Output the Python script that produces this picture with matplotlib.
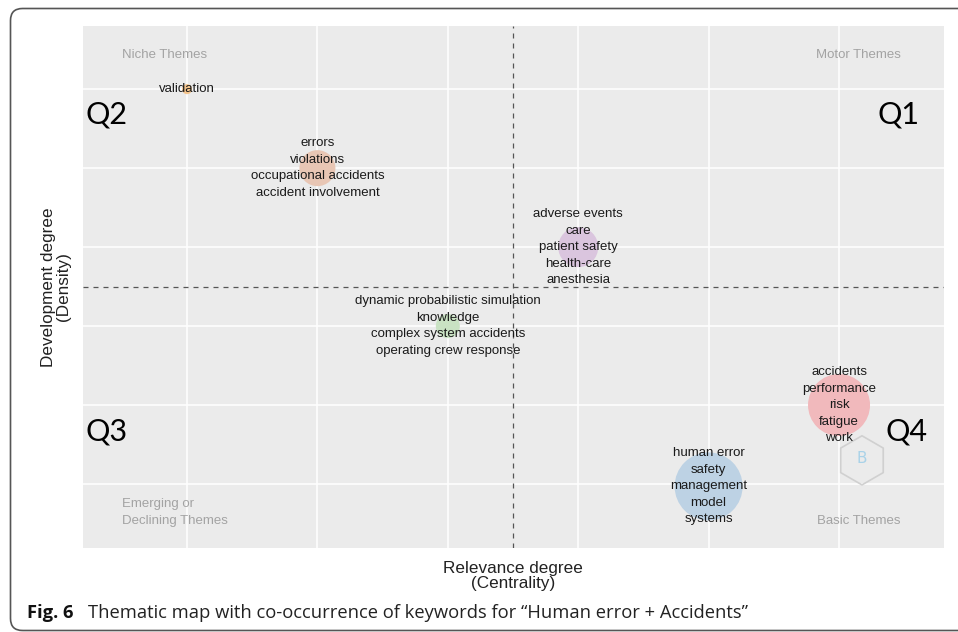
import numpy as np
import matplotlib
matplotlib.use('Agg')
import matplotlib.pyplot as plt
from matplotlib.patches import FancyBboxPatch

# cluster positions (centrality, density), bubble weight and labels
centrality = [1.0, 2.0, 4.0, 3.0, 6.0, 5.0]
density = [6.0, 5.0, 4.0, 3.0, 2.0, 0.97]
weight = [5, 18, 20, 12, 31, 34]
colors = ['#f4c48c', '#e8c6b4', '#dac5de', '#c9e2c3', '#f1b9bc', '#bdd2e4']
labels = [
    ['validation'],
    ['errors', 'violations', 'occupational accidents', 'accident involvement'],
    ['adverse events', 'care', 'patient safety', 'health-care', 'anesthesia'],
    ['dynamic probabilistic simulation', 'knowledge',
     'complex system accidents', 'operating crew response'],
    ['accidents', 'performance', 'risk', 'fatigue', 'work'],
    ['human error', 'safety', 'management', 'model', 'systems'],
]
x_ticks = [1, 2, 3, 4, 5, 6]
y_ticks = [1, 2, 3, 4, 5, 6]
x_mid = 3.5
y_mid = 3.5

fig = plt.figure(figsize=(9.58, 6.32), dpi=100)
ax = fig.add_axes([82.7 / 958, 84 / 632, (944 - 82.7) / 958, (548 - 26) / 632])
ax.set_facecolor('#ebebeb')
ax.set_xlim(0.2, 6.805)
ax.set_ylim(0.19, 6.8)
ax.set_xticks(x_ticks)
ax.set_yticks(y_ticks)
ax.tick_params(length=0, labelbottom=False, labelleft=False)
ax.grid(color='white', linewidth=1.1)
ax.set_axisbelow(True)
for s in ax.spines.values():
    s.set_visible(False)

ax.axvline(x_mid, color='#555555', linestyle=(0, (4, 4)), linewidth=0.9, zorder=2)
ax.axhline(y_mid, color='#555555', linestyle=(0, (4, 4)), linewidth=0.9, zorder=2)

# bubbles: weight is radius in px
sizes = [(2 * w * 0.72) ** 2 for w in weight]
ax.scatter(centrality, density, s=sizes, c=colors, edgecolors='none', zorder=3)

for x, y, lab in zip(centrality, density, labels):
    ax.text(x, y, '\n'.join(lab), ha='center', va='center', fontsize=9.5,
            family='Liberation Sans', color='#1a1a1a', linespacing=1.5, zorder=4)

# watermark
ax.scatter([6.176], [1.30], s=1250, marker='h', facecolors='none',
           edgecolors='#d0d0d0', linewidths=1.2, zorder=3)
ax.text(6.176, 1.32, 'B', ha='center', va='center', fontsize=11,
        color='#a9d2e8', family='DejaVu Sans', zorder=3)

# theme names
gray = '#a3a3a3'
tkw = dict(fontsize=9.5, color=gray, family='Liberation Sans', va='center')
ax.text(0.5, 6.43, 'Niche Themes', **tkw)
ax.text(6.475, 6.43, 'Motor Themes', ha='right', **tkw)
ax.text(0.5, 0.645, 'Emerging or\nDeclining Themes', linespacing=1.55, **tkw)
ax.text(6.475, 0.53, 'Basic Themes', ha='right', **tkw)

# quadrants
qkw = dict(fontsize=22, family='Lato', color='black', va='center')
ax.text(0.22, 5.68, 'Q2', ha='left', **qkw)
ax.text(6.62, 5.68, 'Q1', ha='right', **qkw)
ax.text(0.22, 1.67, 'Q3', ha='left', **qkw)
ax.text(6.68, 1.67, 'Q4', ha='right', **qkw)

fig.text(56 / 958, 1 - 287 / 632, 'Development degree\n(Density)', rotation=90,
         ha='center', va='center', fontsize=12.3, family='Liberation Sans',
         color='#222222', linespacing=1.05)
fig.text(513 / 958, 1 - 576 / 632, 'Relevance degree\n(Centrality)',
         ha='center', va='center', fontsize=12.3, family='Liberation Sans',
         color='#222222', linespacing=1.05)

fig.text(27 / 958, 1 - 613 / 632, 'Fig. 6', fontsize=13.2, fontweight='bold',
         family='Open Sans', va='center', color='#111111')
fig.text(88 / 958, 1 - 613 / 632,
         'Thematic map with co-occurrence of keywords for \u201cHuman error + Accidents\u201d',
         fontsize=13.2, family='Open Sans', va='center', color='#222222')

box = FancyBboxPatch((10.5, 1.5), 1000, 622, boxstyle='round,pad=0,rounding_size=12',
                     transform=None, facecolor='none', edgecolor='#555555',
                     linewidth=1.2, clip_on=False)
fig.patches.append(box)

fig.savefig('out.png', dpi=100)
